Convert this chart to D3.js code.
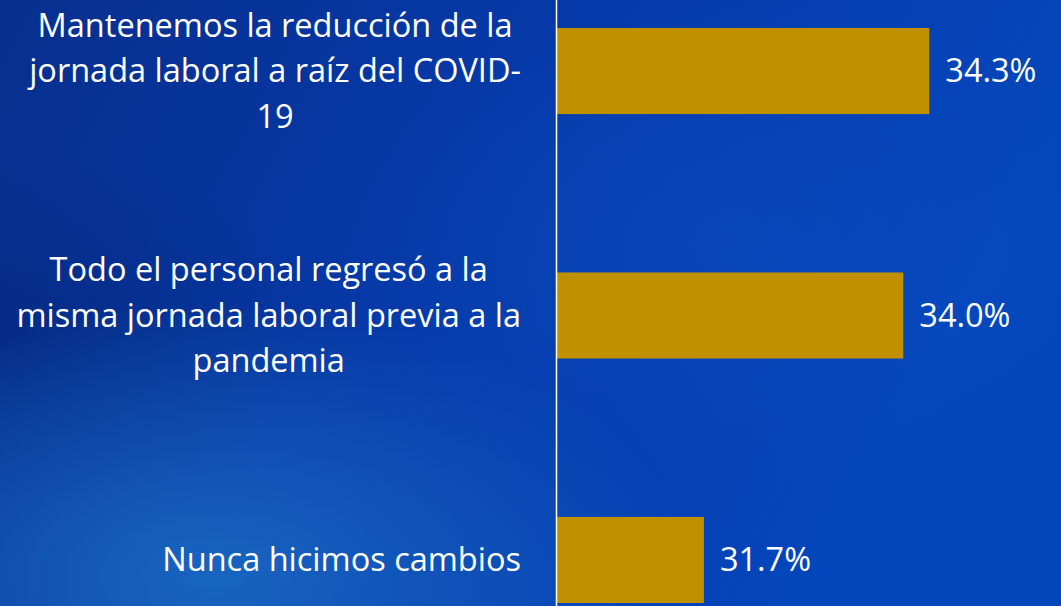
<!DOCTYPE html>
<html>
<head>
<meta charset="utf-8">
<script src="https://cdn.jsdelivr.net/npm/d3@7"></script>
<style>
  html, body { margin: 0; padding: 0; background: #0038a0; }
  svg { display: block; }
</style>
</head>
<body>
<svg></svg>
<script>
// horizontal bar chart, blue background

var categories = ["reduccion", "regreso", "nunca"];
var labelLines = [
  ["Mantenemos la reducción de la", "jornada laboral a raíz del COVID-", "19"],
  ["Todo el personal regresó a la", "misma jornada laboral previa a la", "pandemia"],
  ["Nunca hicimos cambios"]
];
var values = [34.3, 34.0, 31.7];
var valueLabels = ["34.3%", "34.0%", "31.7%"];

var svgWidth = 1061, svgHeight = 606;
var axisX = 556.5, labelRight = 521;
var fontSize = "32.5px";

var svg = d3.select("svg")
  .attr("width", svgWidth)
  .attr("height", svgHeight);

var defs = svg.append("defs");

var lin = defs.append("linearGradient")
  .attr("id", "bg")
  .attr("x1", "0").attr("y1", "0").attr("x2", "1").attr("y2", "0.3");
lin.append("stop").attr("offset", "0").attr("stop-color", "#072f8e");
lin.append("stop").attr("offset", "0.5").attr("stop-color", "#0639a8");
lin.append("stop").attr("offset", "1").attr("stop-color", "#0447bd");

var glow = defs.append("radialGradient")
  .attr("id", "glow")
  .attr("cx", "0.2").attr("cy", "0.95").attr("r", "0.45");
glow.append("stop").attr("offset", "0").attr("stop-color", "#1a6ac4").attr("stop-opacity", 0.9);
glow.append("stop").attr("offset", "1").attr("stop-color", "#1a6ac4").attr("stop-opacity", 0);

var glow2 = defs.append("radialGradient")
  .attr("id", "glow2")
  .attr("cx", "0.7").attr("cy", "0.4").attr("r", "0.4");
glow2.append("stop").attr("offset", "0").attr("stop-color", "#0a4cc0").attr("stop-opacity", 0.6);
glow2.append("stop").attr("offset", "1").attr("stop-color", "#0a4cc0").attr("stop-opacity", 0);

var dark = defs.append("radialGradient")
  .attr("id", "dark")
  .attr("cx", "0.0").attr("cy", "0.55").attr("r", "0.3");
dark.append("stop").attr("offset", "0").attr("stop-color", "#032474").attr("stop-opacity", 0.5);
dark.append("stop").attr("offset", "1").attr("stop-color", "#032474").attr("stop-opacity", 0);

svg.append("rect").attr("width", svgWidth).attr("height", svgHeight).attr("fill", "url(#bg)");
svg.append("rect").attr("width", svgWidth).attr("height", svgHeight).attr("fill", "url(#glow2)");
svg.append("rect").attr("width", svgWidth).attr("height", svgHeight).attr("fill", "url(#dark)");
svg.append("rect").attr("width", svgWidth).attr("height", svgHeight).attr("fill", "url(#glow)");

var xscale = d3.scaleLinear()
  .domain([30, 35])
  .range([axisX, axisX + 433.5]);

var yscale = d3.scaleBand()
  .domain(categories)
  .range([28, 603])
  .paddingInner(0.648)
  .paddingOuter(0);

svg.selectAll("rect.bar")
  .data(values)
  .enter()
  .append("rect")
  .attr("class", "bar")
  .attr("x", xscale(30))
  .attr("y", function(d, i) { return yscale(categories[i]); })
  .attr("width", function(d) { return xscale(d) - xscale(30); })
  .attr("height", yscale.bandwidth())
  .attr("fill", "#c09000");

// axis line
svg.append("line")
  .attr("x1", axisX).attr("x2", axisX)
  .attr("y1", 0).attr("y2", svgHeight)
  .attr("stroke", "#ffffff")
  .attr("stroke-width", 1.5);

// value labels
svg.selectAll("text.value")
  .data(values)
  .enter()
  .append("text")
  .attr("class", "value")
  .text(function(d, i) { return valueLabels[i]; })
  .attr("x", function(d) { return xscale(d) + 16; })
  .attr("y", function(d, i) { return yscale(categories[i]) + yscale.bandwidth() / 2; })
  .attr("dy", "0.35em")
  .attr("fill", "#ffffff")
  .style("font-family", "'Open Sans', sans-serif")
  .style("font-size", fontSize);

// category labels, wrapped lines centred in a right aligned box
var lineH = 45.5;
var groups = svg.selectAll("g.cat")
  .data(categories)
  .enter()
  .append("g")
  .attr("class", "cat");

groups.each(function(c, i) {
  var g = d3.select(this);
  var lines = labelLines[i];
  var cy = yscale(c) + yscale.bandwidth() / 2;
  var texts = g.selectAll("text")
    .data(lines)
    .enter()
    .append("text")
    .text(function(d) { return d; })
    .attr("y", function(d, j) { return cy + (j - (lines.length - 1) / 2) * lineH; })
    .attr("dy", "0.35em")
    .attr("text-anchor", "middle")
    .attr("fill", "#ffffff")
    .style("font-family", "'Open Sans', sans-serif")
    .style("font-size", fontSize);
  var maxW = 0;
  texts.each(function() { maxW = Math.max(maxW, this.getComputedTextLength()); });
  texts.attr("x", labelRight - maxW / 2);
});
</script>
</body>
</html>
